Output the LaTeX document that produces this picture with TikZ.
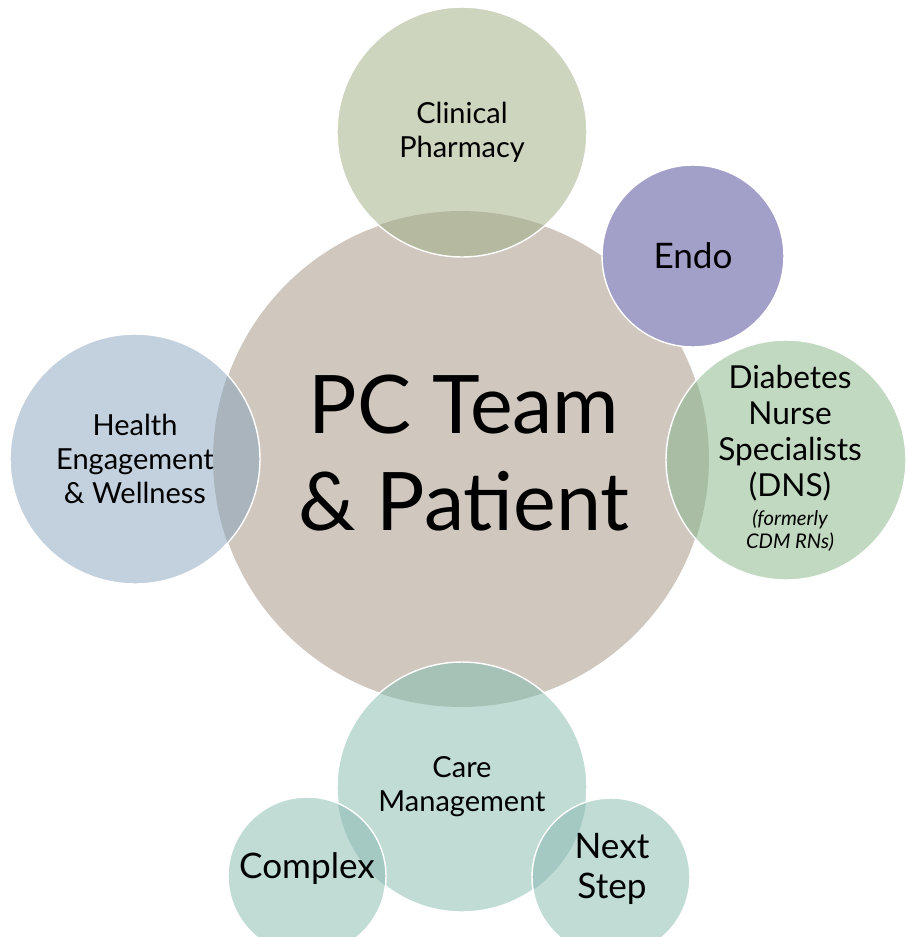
\documentclass[tikz,border=0pt]{standalone}
\usepackage{fontspec}
\setmainfont{Lato}
\definecolor{mainfill}{HTML}{D0C8BF}
\definecolor{clinfill}{HTML}{CED5BF}
\definecolor{clinov}{HTML}{B4B99F}
\definecolor{endofill}{HTML}{A2A0C8}
\definecolor{dnsfill}{HTML}{C1D9C0}
\definecolor{dnsov}{HTML}{A8BDA4}
\definecolor{hewfill}{HTML}{C3D1DF}
\definecolor{hewov}{HTML}{A9B4BD}
\definecolor{carefill}{HTML}{C0DCD5}
\definecolor{careov}{HTML}{A6C1B6}
\definecolor{subov}{HTML}{A3C9C2}
\begin{document}
\begin{tikzpicture}[x=0.02cm,y=-0.02cm,
    disc/.style={circle,draw=white,line width=0.8pt,inner sep=0pt},
    lbl/.style={align=center,font=\fontsize{16.5}{19.5}\selectfont},
    biglbl/.style={align=center,font=\fontsize{20}{23}\selectfont}]
  \useasboundingbox (0,0) rectangle (906,937);
  % centre
  \node[disc,fill=mainfill,minimum size=9.92cm] (main) at (461,459) {};
  % satellites
  \node[disc,fill=clinfill,minimum size=5cm,lbl,
    path picture={\fill[clinov] (main.center) circle (4.96cm);}] (clin) at (462,132) {Clinical\\Pharmacy};
  \node[disc,fill=endofill,minimum size=3.64cm,biglbl] (endo) at (693,256) {Endo};
  \node[disc,fill=dnsfill,minimum size=4.8cm,
    path picture={\fill[dnsov] (main.center) circle (4.96cm);}] (dns) at (786,460) {};
  \node[disc,fill=hewfill,minimum size=5cm,lbl,
    path picture={\fill[hewov] (main.center) circle (4.96cm);}] (hew) at (135,459) {Health\\Engagement\\\& Wellness};
  \node[disc,fill=carefill,minimum size=5cm,lbl,
    path picture={\fill[careov] (main.center) circle (4.96cm);}] (care) at (462,787) {Care\\Management};
  \node[disc,fill=carefill,minimum size=3.16cm,
    path picture={\fill[subov] (care.center) circle (2.5cm);}] (cplx) at (307,876) {};
  \node[disc,fill=carefill,minimum size=3.16cm,
    path picture={\fill[subov] (care.center) circle (2.5cm);}] (next) at (611,877) {};
  % texts
  \node[align=center,font=\fontsize{46}{55}\selectfont] (maintext) at (464,453) {PC Team\\\& Patient};
  \node[align=center,font=\fontsize{18}{20.5}\selectfont] (dnstext) at (790,433) {Diabetes\\Nurse\\Specialists\\(DNS)};
  \node[align=center,font=\fontsize{11.5}{13}\selectfont\itshape] (dnsnote) at (790,531) {(formerly\\CDM RNs)};
  \node[biglbl] (cplxtext) at (307,869) {Complex};
  \node[biglbl] (nexttext) at (612,869) {Next\\Step};
\end{tikzpicture}
\end{document}
